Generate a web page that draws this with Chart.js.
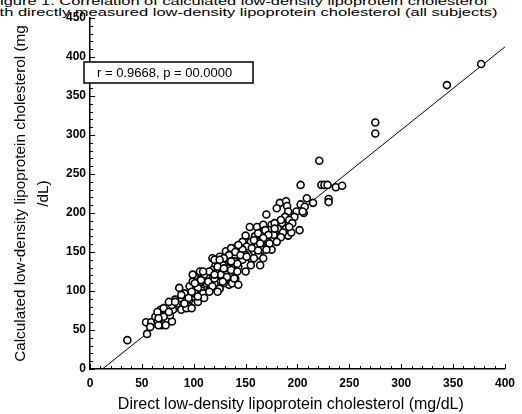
<!DOCTYPE html>
<html lang="en">
<head>
<meta charset="UTF-8">
<title>Calculated vs direct LDL cholesterol</title>
<script src="https://cdn.jsdelivr.net/npm/chart.js"></script>
<style>
  body { margin: 0; background: #fff; }
  #wrap { position: relative; width: 522px; height: 414px; overflow: hidden; }
  .fig { position: absolute; white-space: nowrap; transform-origin: 0 0; color: #000;
         font: 10.5px "Liberation Sans", Arial, sans-serif; line-height: 10.5px; }
  canvas { position: absolute; left: 0; top: 0; }
</style>
</head>
<body>
<div id="wrap">
  <div class="fig" id="fig1" style="top:-4px">Figure 1. Correlation of calculated low-density lipoprotein cholesterol</div>
  <div class="fig" id="fig2" style="top:7px">with directly measured low-density lipoprotein cholesterol (all subjects)</div>
  <canvas id="ldlChart" width="522" height="414"></canvas>
</div>
<script>
// direct LDL-C (mg/dL) for each subject
const directLDL = [
  377, 344, 275, 275, 221, 203, 223, 226, 229, 237, 243, 230, 230, 215, 209, 203, 206, 183, 189, 190, 170, 202, 191, 154,
  207, 199, 191, 188, 197, 192, 185, 195, 181, 189, 175, 167, 161, 178, 186, 194, 170, 164,
  184, 178, 167, 173, 166, 177, 184, 159, 150, 170, 162, 155, 147, 180, 142, 151, 161, 172, 166, 158, 147, 137, 131, 175,
  140, 150, 162, 134, 125, 118, 147, 156, 167, 139, 129, 121, 155, 164, 143, 134, 126, 118, 114, 106, 150, 139, 131, 121,
  112, 106, 140, 129, 120, 112, 104, 134, 125, 115, 107, 101, 137, 143,
  36, 55, 54, 59, 65, 69, 66, 79, 63, 68, 73, 68, 71, 77, 80, 79, 84, 87, 86, 82, 76, 90, 95, 91, 88, 93, 96, 99, 98,
  104, 101, 106, 96, 109, 107, 99, 110, 106, 114, 115, 118, 120, 123, 120, 128, 126, 123, 129, 131, 104, 110,
  205, 180, 178, 192, 169, 162, 172, 167, 158, 164, 173, 170, 143, 156, 162, 136, 140, 134, 145, 151, 158, 142, 136, 129,
  125, 123, 129, 136, 142, 139, 132, 128, 120, 109, 99, 107, 115, 101, 98, 104, 95, 88, 82, 91, 98, 76, 65, 71, 66, 73, 58
];
// calculated LDL-C (mg/dL), same order
const calculatedLDL = [
  391, 364, 316, 302, 267, 236, 236, 236, 236, 233, 235, 218, 214, 213, 219, 211, 200, 213, 215, 209, 198, 178, 171, 182,
  208, 202, 202, 195, 195, 191, 187, 187, 180, 180, 185, 180, 182, 175, 175, 175, 175, 175,
  191, 187, 185, 178, 174, 172, 169, 170, 171, 165, 163, 163, 163, 163, 157, 157, 157, 159, 153, 151, 153, 153, 151, 153,
  146, 146, 146, 142, 144, 142, 140, 140, 142, 138, 136, 133, 133, 133, 131, 129, 127, 127, 123, 123, 125, 125, 121, 118,
  118, 114, 116, 112, 110, 110, 108, 108, 103, 101, 101, 99, 110, 108,
  37, 45, 60, 60, 62, 56, 56, 61, 67, 69, 70, 76, 78, 69, 76, 82, 84, 91, 104, 89, 86, 82, 82, 97, 76, 78, 89, 93, 104,
  104, 97, 93, 106, 97, 112, 112, 121, 125, 112, 125, 106, 116, 127, 140, 133, 121, 99, 110, 142, 86, 91,
  202, 206, 180, 182, 178, 174, 172, 168, 165, 161, 161, 153, 159, 155, 152, 155, 150, 146, 146, 144, 142, 135, 138, 142,
  140, 131, 129, 127, 125, 116, 118, 112, 121, 125, 121, 114, 99, 110, 99, 93, 91, 95, 86, 84, 78, 73, 73, 67, 65, 56, 54
];
// regression line end points
const fitX = [12, 400];
const fitY = [0, 413];
const statsText = 'r = 0.9668, p = 00.0000';

const xRange = [0, 400], yRange = [0, 450];
const majorStep = 50, minorStep = 10;
const family = '"Liberation Sans", Arial, sans-serif';

// the figure caption is cut at the top-left and drawn wide, as in the scan
function stretchCaption(id, hidden, endX) {
  const el = document.getElementById(id);
  const m = document.createElement('canvas').getContext('2d');
  m.font = '10.5px ' + family;
  const full = m.measureText(el.textContent).width;
  const cut = m.measureText(hidden).width;
  const s = endX / (full - cut);
  el.style.left = (-cut * s) + 'px';
  el.style.transform = 'scaleX(' + s + ')';
}
stretchCaption('fig1', 'F', 487);
stretchCaption('fig2', 'wi', 498);

const innerTicks = {
  id: 'innerTicks',
  afterDraw(chart) {
    const { ctx, chartArea: a, scales: { x, y } } = chart;
    ctx.save();
    ctx.strokeStyle = '#000';
    ctx.lineWidth = 1;
    for (let v = xRange[0]; v <= xRange[1]; v += minorStep) {
      const px = Math.round(x.getPixelForValue(v)) + 0.5;
      const len = v % majorStep === 0 ? 5 : 3;
      ctx.beginPath(); ctx.moveTo(px, a.bottom); ctx.lineTo(px, a.bottom - len); ctx.stroke();
    }
    for (let v = yRange[0]; v <= yRange[1]; v += minorStep) {
      const py = Math.round(y.getPixelForValue(v)) + 0.5;
      const len = v % majorStep === 0 ? 5 : 3;
      ctx.beginPath(); ctx.moveTo(a.left, py); ctx.lineTo(a.left + len, py); ctx.stroke();
    }
    ctx.restore();
  }
};

const statsBox = {
  id: 'statsBox',
  afterDraw(chart) {
    const { ctx, chartArea: a } = chart;
    const bx = a.left - 6, by = a.top + 44, bw = 169, bh = 21;
    ctx.save();
    ctx.fillStyle = '#fff';
    ctx.fillRect(bx, by, bw, bh);
    ctx.strokeStyle = '#000';
    ctx.lineWidth = 1.5;
    ctx.strokeRect(bx, by, bw, bh);
    ctx.fillStyle = '#000';
    ctx.font = '13px ' + family;
    ctx.textBaseline = 'middle';
    ctx.fillText(statsText, bx + 13, by + bh / 2 + 0.5);
    ctx.restore();
  }
};

new Chart(document.getElementById('ldlChart'), {
  type: 'scatter',
  data: {
    datasets: [
      {
        label: 'Subjects',
        data: directLDL.map((x, i) => ({ x, y: calculatedLDL[i] })),
        pointRadius: 3.5,
        pointBorderWidth: 1.6,
        pointBorderColor: '#000',
        pointBackgroundColor: '#fff'
      },
      {
        label: 'Regression',
        data: fitX.map((x, i) => ({ x, y: fitY[i] })),
        showLine: true,
        borderColor: '#000',
        borderWidth: 1,
        pointRadius: 0
      }
    ]
  },
  options: {
    responsive: false,
    animation: false,
    layout: { padding: { top: 18, right: 9, left: 0, bottom: 0 } },
    plugins: { legend: { display: false }, tooltip: { enabled: false } },
    scales: {
      x: {
        type: 'linear', min: xRange[0], max: xRange[1],
        ticks: { stepSize: majorStep, padding: 7, color: '#000', font: { family, size: 12, weight: 'bold' } },
        grid: { drawOnChartArea: false, drawTicks: false },
        border: { color: '#000', width: 1.5 },
        title: {
          display: true, color: '#000',
          text: 'Direct low-density lipoprotein cholesterol (mg/dL)   ',
          font: { family, size: 16 }, padding: { top: 0, bottom: 0 }
        },
        afterFit: s => { s.height = 45; }
      },
      y: {
        type: 'linear', min: yRange[0], max: yRange[1],
        ticks: { stepSize: majorStep, padding: 4, color: '#000', font: { family, size: 12, weight: 'bold' } },
        grid: { drawOnChartArea: false, drawTicks: false },
        border: { color: '#000', width: 1.5 },
        title: {
          display: true, color: '#000',
          text: ['Calculated low-density lipoprotein cholesterol (mg', '/dL)'],
          font: { family, size: 15.3, lineHeight: 1.5 }, padding: { top: 9.5, bottom: 0 }
        },
        afterFit: s => { s.width = 90; }
      }
    }
  },
  plugins: [innerTicks, statsBox]
});
</script>
</body>
</html>
